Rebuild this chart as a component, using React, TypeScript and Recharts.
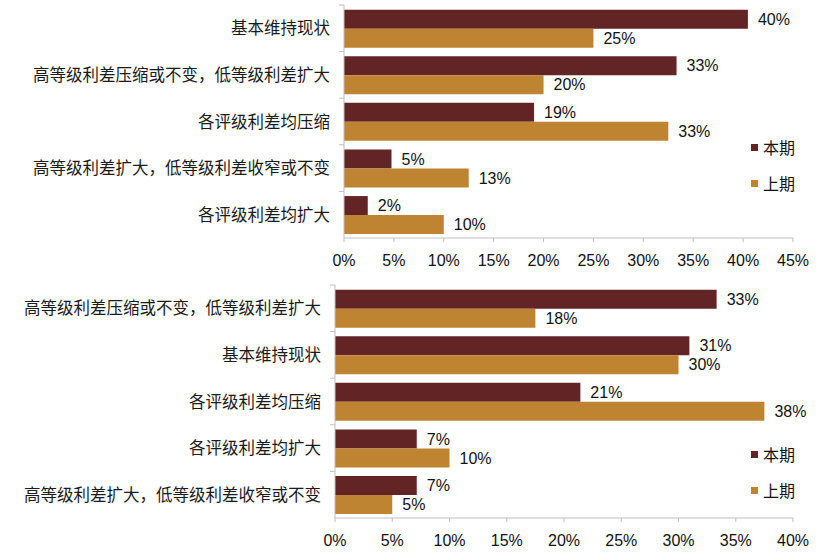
import { BarChart, Bar, XAxis, YAxis, LabelList } from 'recharts';

const topCategories = [
  '基本维持现状',
  '高等级利差压缩或不变，低等级利差扩大',
  '各评级利差均压缩',
  '高等级利差扩大，低等级利差收窄或不变',
  '各评级利差均扩大',
];
const topCurrent = [40.48, 33.33, 19.05, 4.76, 2.38];
const topPrevious = [25, 20, 32.5, 12.5, 10];
const topTicks = [0, 5, 10, 15, 20, 25, 30, 35, 40, 45];

const bottomCategories = [
  '高等级利差压缩或不变，低等级利差扩大',
  '基本维持现状',
  '各评级利差均压缩',
  '各评级利差均扩大',
  '高等级利差扩大，低等级利差收窄或不变',
];
const bottomCurrent = [33.33, 30.95, 21.43, 7.14, 7.14];
const bottomPrevious = [17.5, 30, 37.5, 10, 5];
const bottomTicks = [0, 5, 10, 15, 20, 25, 30, 35, 40];

const seriesNames = ['本期', '上期'];

const CURRENT = '#632426';
const PREVIOUS = '#BF8431';
const AXIS = '#BFBFBF';
const FONT = '"Liberation Sans", "Noto Sans CJK SC", sans-serif';

const pct = (v: number) => `${Math.round(v)}%`;

function CategoryTick(props: any) {
  const { x, y, payload } = props;
  const half = payload && payload.offset ? payload.offset : 23.3;
  const axisX = x + 14;
  return (
    <g>
      <text
        x={x}
        y={y}
        textAnchor="end"
        dominantBaseline="central"
        fontSize={16.5}
        fill="#1a1a1a"
        fontFamily={FONT}
      >
        {payload.value}
      </text>
      <line x1={axisX - 5} x2={axisX} y1={y - half} y2={y - half} stroke={AXIS} />
    </g>
  );
}

function LegendBox({ top }: { top: number }) {
  const colors = [CURRENT, PREVIOUS];
  return (
    <div
      style={{
        position: 'absolute',
        left: 751,
        top,
        fontFamily: FONT,
        fontSize: 16,
        color: '#111',
      }}
    >
      {seriesNames.map((name, i) => (
        <div key={name} style={{ display: 'flex', alignItems: 'center', height: 36 }}>
          <span style={{ width: 7, height: 7, background: colors[i], marginRight: 5 }} />
          <span>{name}</span>
        </div>
      ))}
    </div>
  );
}

interface PanelProps {
  categories: string[];
  current: number[];
  previous: number[];
  ticks: number[];
  height: number;
  yWidth: number;
  xHeight: number;
}

function Panel({ categories, current, previous, ticks, height, yWidth, xHeight }: PanelProps) {
  const data = categories.map((name, i) => ({ name, current: current[i], previous: previous[i] }));
  const max = ticks[ticks.length - 1];
  return (
    <BarChart
      width={831}
      height={height}
      data={data}
      layout="vertical"
      margin={{ top: 5, right: 38, left: 0, bottom: 0 }}
      barCategoryGap="10%"
      barGap={0}
    >
      <XAxis
        type="number"
        domain={[0, max]}
        ticks={ticks}
        tickFormatter={(v) => `${v}%`}
        height={xHeight}
        stroke={AXIS}
        tickSize={4}
        tickMargin={13}
        tick={{ fill: '#111', fontSize: 16, fontFamily: FONT }}
        interval={0}
      />
      <YAxis
        type="category"
        dataKey="name"
        width={yWidth}
        stroke={AXIS}
        tickLine={false}
        tickSize={0}
        tickMargin={14}
        tick={<CategoryTick />}
        interval={0}
      />
      <Bar dataKey="current" name={seriesNames[0]} fill={CURRENT} isAnimationActive={false}>
        <LabelList
          dataKey="current"
          position="right"
          offset={10}
          formatter={pct}
          fill="#111"
          fontSize={16}
          fontFamily={FONT}
        />
      </Bar>
      <Bar dataKey="previous" name={seriesNames[1]} fill={PREVIOUS} isAnimationActive={false}>
        <LabelList
          dataKey="previous"
          position="right"
          offset={10}
          formatter={pct}
          fill="#111"
          fontSize={16}
          fontFamily={FONT}
        />
      </Bar>
    </BarChart>
  );
}

export default function App() {
  return (
    <div style={{ position: 'absolute', left: 0, top: 0, width: 831, height: 552, background: '#fff' }}>
      <div style={{ position: 'absolute', left: 0, top: 0 }}>
        <Panel
          categories={topCategories}
          current={topCurrent}
          previous={topPrevious}
          ticks={topTicks}
          height={280}
          yWidth={344}
          xHeight={42}
        />
      </div>
      <LegendBox top={129} />
      <div style={{ position: 'absolute', left: 0, top: 280 }}>
        <Panel
          categories={bottomCategories}
          current={bottomCurrent}
          previous={bottomPrevious}
          ticks={bottomTicks}
          height={272}
          yWidth={335}
          xHeight={34}
        />
      </div>
      <LegendBox top={436} />
    </div>
  );
}
